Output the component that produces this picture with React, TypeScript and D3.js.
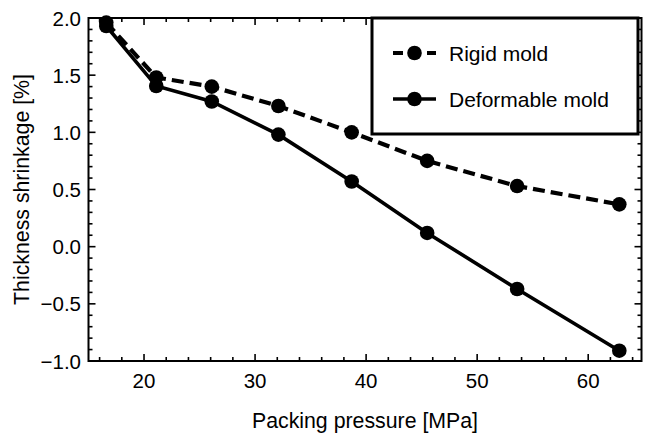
import React from "react";
import * as d3 from "d3";

const pressure = [16.6, 21.1, 26.1, 32.1, 38.7, 45.5, 53.6, 62.8];
const rigid = [1.96, 1.48, 1.40, 1.23, 1.0, 0.75, 0.53, 0.37];
const deformable = [1.93, 1.405, 1.27, 0.98, 0.57, 0.12, -0.37, -0.91];
const xTicks = [20, 30, 40, 50, 60];
const yTicks = [-1.0, -0.5, 0.0, 0.5, 1.0, 1.5, 2.0];
const seriesNames = ["Rigid mold", "Deformable mold"];

const W = 646, H = 433;
const L = 88.5, R = 641.5, T = 18, B = 361;
const FONT = "Liberation Sans, Arial, sans-serif";

export default function App() {
  const x = d3.scaleLinear().domain([15, 64.8]).range([L, R]);
  const y = d3.scaleLinear().domain([-1, 2]).range([B, T]);
  const line = d3.line<number>().x((_, i) => x(pressure[i])).y((d) => y(d));
  const xMinor = d3.range(16, 65, 2).filter((v) => !xTicks.includes(v));
  const yMinor = d3.range(-10, 21, 1).map((v) => v / 10).filter((v) => !yTicks.some((t) => Math.abs(t - v) < 1e-9));
  const big = 7, small = 4;
  const series = [
    { name: seriesNames[0], data: rigid, dash: "12,6" },
    { name: seriesNames[1], data: deformable, dash: undefined as string | undefined },
  ];
  return (
    <svg width={W} height={H} style={{ position: "absolute", left: 0, top: 0, background: "#fff" }} fontFamily={FONT}>
      <rect x={0} y={0} width={W} height={H} fill="#fff" />
      <g stroke="#000" strokeWidth={1.6}>
        {xTicks.map((v) => (
          <g key={"xt" + v}>
            <line x1={x(v)} x2={x(v)} y1={B} y2={B - big} />
            <line x1={x(v)} x2={x(v)} y1={T} y2={T + big} />
          </g>
        ))}
        {xMinor.map((v) => (
          <g key={"xm" + v}>
            <line x1={x(v)} x2={x(v)} y1={B} y2={B - small} />
            <line x1={x(v)} x2={x(v)} y1={T} y2={T + small} />
          </g>
        ))}
        {yTicks.map((v) => (
          <g key={"yt" + v}>
            <line x1={L} x2={L + big} y1={y(v)} y2={y(v)} />
            <line x1={R} x2={R - big} y1={y(v)} y2={y(v)} />
          </g>
        ))}
        {yMinor.map((v) => (
          <g key={"ym" + v}>
            <line x1={L} x2={L + small} y1={y(v)} y2={y(v)} />
            <line x1={R} x2={R - small} y1={y(v)} y2={y(v)} />
          </g>
        ))}
      </g>
      <rect x={L} y={T} width={R - L} height={B - T} fill="none" stroke="#000" strokeWidth={2} />
      {xTicks.map((v) => (
        <text key={"xl" + v} x={x(v)} y={388} textAnchor="middle" fontSize={20.5} fill="#000">
          {v}
        </text>
      ))}
      {yTicks.map((v) => (
        <text key={"yl" + v} x={81} y={y(v) + 7.5} textAnchor="end" fontSize={20.5} fill="#000">
          {d3.format(".1f")(v)}
        </text>
      ))}
      <text x={(L + R) / 2} y={428} textAnchor="middle" fontSize={21.3} fill="#000">
        Packing pressure [MPa]
      </text>
      <text transform={`translate(29,${(T + B) / 2}) rotate(-90)`} textAnchor="middle" fontSize={21.3} fill="#000">
        Thickness shrinkage [%]
      </text>
      {series.map((s) => (
        <g key={s.name}>
          <path d={line(s.data) || ""} fill="none" stroke="#000" strokeWidth={s.dash ? 4.2 : 3.6} strokeDasharray={s.dash} />
          {s.data.map((d, i) => (
            <circle key={i} cx={x(pressure[i])} cy={y(d)} r={7.3} fill="#000" />
          ))}
        </g>
      ))}
      <rect x={372} y={18} width={266} height={116} fill="#fff" stroke="#000" strokeWidth={3} />
      {series.map((s, i) => {
        const ly = 53 + i * 46;
        return (
          <g key={"lg" + s.name}>
            <line x1={393} x2={436} y1={ly} y2={ly} stroke="#000" strokeWidth={s.dash ? 4.2 : 3.6} strokeDasharray={s.dash ? "10,24,9" : undefined} />
            <circle cx={414.5} cy={ly} r={7.3} fill="#000" />
            <text x={449} y={ly + 7.5} fontSize={21} fill="#000">
              {s.name}
            </text>
          </g>
        );
      })}
    </svg>
  );
}
